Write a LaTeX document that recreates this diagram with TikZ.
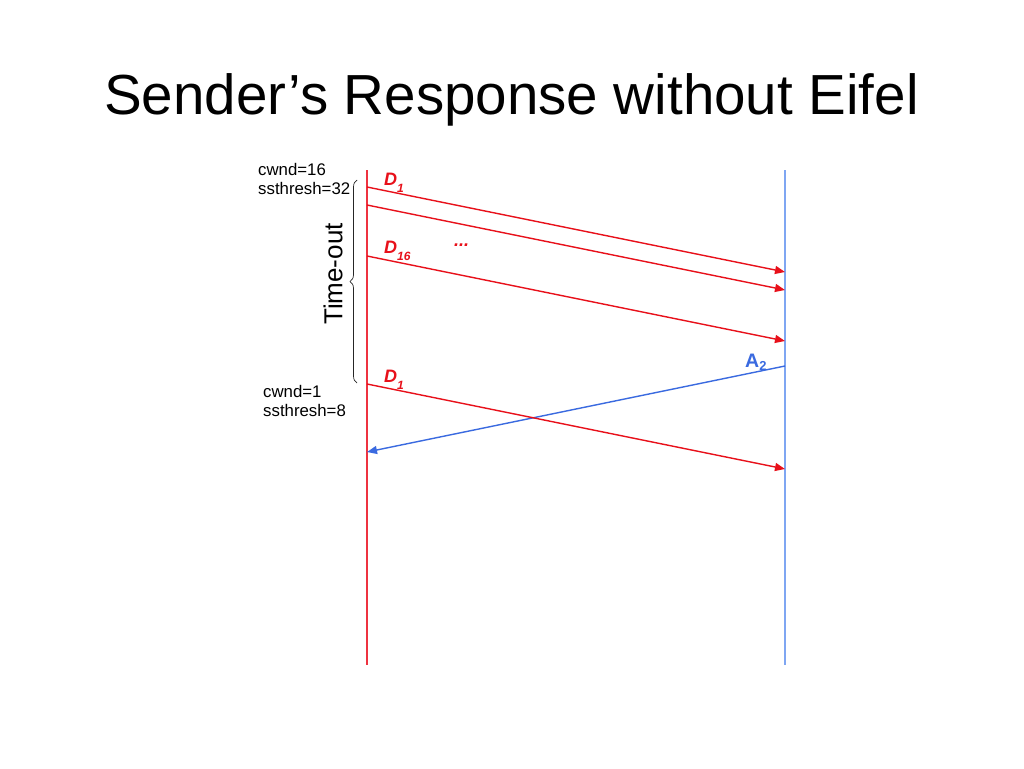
\documentclass[tikz,border=0pt]{standalone}
\usepackage{fontspec}
\setmainfont{Liberation Sans}
\usetikzlibrary{arrows.meta,decorations.pathreplacing}
\definecolor{sendred}{HTML}{EE3340}
\definecolor{arrred}{HTML}{E8101A}
\definecolor{recvblue}{HTML}{7FA6F2}
\definecolor{ackblue}{HTML}{3A6AE0}
\newcommand{\dsub}[1]{\raisebox{-7pt}{\fontsize{12}{13}\selectfont #1}}
\begin{document}
\begin{tikzpicture}[x=1pt,y=-1pt,
  lbl/.style={font=\fontsize{16.8}{19}\selectfont, inner sep=0pt, anchor=base west},
  dlbl/.style={font=\fontsize{18}{20}\selectfont\bfseries\itshape, text=arrred, inner sep=0pt, anchor=base west},
  msg/.style={arrred, line width=1.4pt, -{Triangle[length=10pt,width=8pt]}},
  ack/.style={ackblue, line width=1.4pt, -{Triangle[length=10pt,width=8pt]}}]
\useasboundingbox[fill=white] (0,0) rectangle (1024,768);
% title
\node[font=\fontsize{56.5}{62}\selectfont, inner sep=0pt, anchor=base] (title) at (511.5,114) {Sender’s Response without Eifel};
% time lines
\coordinate (s0) at (367,170);
\coordinate (s1) at (367,665);
\coordinate (r0) at (785,170);
\coordinate (r1) at (785,665);
\draw[sendred, line width=1.3pt] (s0) -- (s1);
\draw[recvblue, line width=1.6pt] (r0) -- (r1);
% messages
\coordinate (a1) at (367,187); \coordinate (b1) at (785,272);
\coordinate (a2) at (367,205); \coordinate (b2) at (785,290);
\coordinate (a3) at (367,256); \coordinate (b3) at (785,341);
\coordinate (a4) at (785,366); \coordinate (b4) at (367,452);
\coordinate (a5) at (367,384); \coordinate (b5) at (785,469);
\draw[msg] (a1) -- (b1);
\draw[msg] (a2) -- (b2);
\draw[msg] (a3) -- (b3);
\draw[ack] (a4) -- (b4);
\draw[msg] (a5) -- (b5);
% labels
\node[dlbl] (d1) at (384,185) {D\dsub{1}};
\node[dlbl] (d16) at (384,253) {D\dsub{16}};
\node[dlbl] (dots) at (454,246) {...};
\node[font=\fontsize{19.5}{21}\selectfont\bfseries, text=ackblue, inner sep=0pt, anchor=base west] (a2l) at (745,367) {A\raisebox{-3pt}{\fontsize{13}{14}\selectfont 2}};
\node[dlbl] (d1b) at (384,382) {D\dsub{1}};
% state texts
\node[lbl] (cw1) at (258,175) {cwnd=16};
\node[lbl] (ss1) at (258,194) {ssthresh=32};
\node[lbl] (cw2) at (263,397) {cwnd=1};
\node[lbl] (ss2) at (263,416) {ssthresh=8};
% brace
\coordinate (br0) at (357,383);
\coordinate (br1) at (357,180);
\draw[black!85, line width=0.7pt, decorate, decoration={brace, amplitude=7pt}] (br0) -- (br1);
\node[font=\fontsize{26}{28}\selectfont, rotate=90, inner sep=0pt] (to) at (333,274) {Time-out};
\end{tikzpicture}
\end{document}
